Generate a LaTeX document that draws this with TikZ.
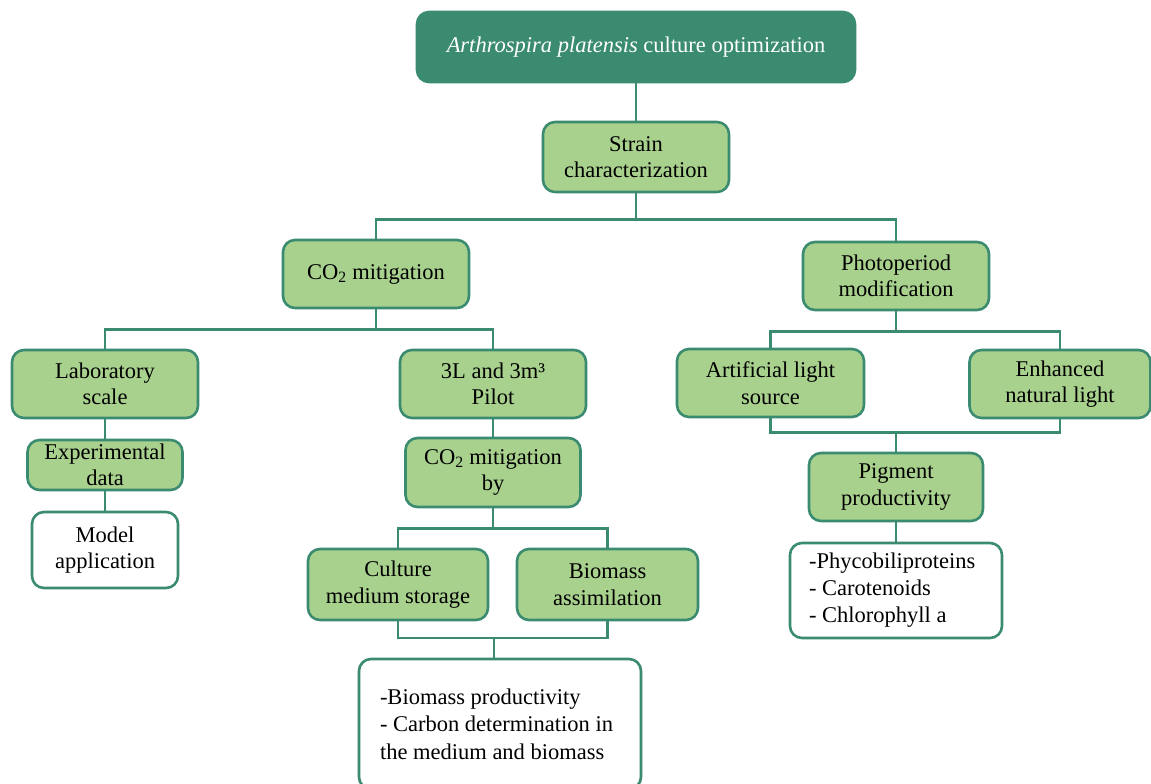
\documentclass[tikz,border=0pt]{standalone}
\usepackage{fontspec}
\setmainfont{Liberation Serif}
\usetikzlibrary{calc}
\definecolor{dk}{HTML}{3A8B70}
\definecolor{lg}{HTML}{A9D18E}
\tikzset{
 base/.style={draw=dk, line width=2.6pt, rounded corners=12pt, align=center, inner sep=0pt, font=\fontsize{22.5}{26.5}\selectfont, text=black},
 gbox/.style={base, fill=lg},
 wbox/.style={base, fill=white},
 tbox/.style={base, fill=dk, text=white},
 conn/.style={draw=dk, line width=2.8pt},
 sz/.style 2 args={minimum width=#1, minimum height=#2},
}
\begin{document}
\begin{tikzpicture}[x=1pt,y=-1pt]
\useasboundingbox (0,0) rectangle (1151,784);
\clip (0,0) rectangle (1151,784);
% nodes
\node[tbox, sz={438pt}{70pt}] (top) at (636,47) {\textit{Arthrospira platensis} culture optimization};
\node[gbox, sz={186pt}{70pt}] (strain) at (636,157) {Strain\\characterization};
\node[gbox, sz={186pt}{68pt}] (co2) at (376,274) {CO\textsubscript{2} mitigation};
\node[gbox, sz={186pt}{68pt}] (photo) at (896,276) {Photoperiod\\modification};
\node[gbox, sz={186pt}{68pt}] (lab) at (105,384) {Laboratory\\scale};
\node[gbox, sz={186pt}{68pt}] (pilot) at (493,384) {3L and 3m³\\Pilot};
\node[gbox, sz={187pt}{68pt}] (art) at (770.5,383) {Artificial light\\source};
\node[gbox, sz={181pt}{68pt}] (enh) at (1060,384) {Enhanced\\natural light};
\node[gbox, sz={155pt}{50pt}] (exp) at (105,465) {Experimental\\data};
\node[wbox, sz={146pt}{76pt}] (model) at (105,550) {Model\\application};
\node[gbox, sz={175pt}{69pt}] (coby) at (493,472.5) {CO\textsubscript{2} mitigation\\by};
\node[gbox, sz={180pt}{71pt}] (culture) at (398,584.5) {Culture\\medium storage};
\node[gbox, sz={181pt}{71pt}] (biomass) at (607.5,584.5) {Biomass\\assimilation};
\node[wbox, sz={282pt}{130pt}, text width=240pt, align=flush left, font=\fontsize{22.5}{27.5}\selectfont] (res) at (500,724) {-Biomass productivity\\- Carbon determination in\\the medium and biomass};
\node[gbox, sz={174pt}{68pt}] (pig) at (896,487) {Pigment\\productivity};
\node[wbox, sz={212pt}{95pt}, text width=174pt, align=flush left, font=\fontsize{22.5}{27}\selectfont] (plist) at (896,590.5) {-Phycobiliproteins\\- Carotenoids\\- Chlorophyll a};
% connectors
\draw[conn] (top.south) -- (strain.north);
\coordinate (j1) at ($(strain.south)+(0,26)$);
\draw[conn] (strain.south) -- (j1);
\draw[conn] (co2.north) |- (j1) -| (photo.north);
\coordinate (j2) at ($(co2.south)+(0,20)$);
\draw[conn] (co2.south) -- (j2);
\draw[conn] (lab.north) |- (j2) -| (pilot.north);
\coordinate (j3) at ($(photo.south)+(0,20)$);
\draw[conn] (photo.south) -- (j3);
\draw[conn] (art.north) |- (j3) -| (enh.north);
\coordinate (j4) at ($(pig.north)+(0,-19)$);
\draw[conn] (art.south) |- (j4) -| (enh.south);
\draw[conn] (j4) -- (pig.north);
\draw[conn] (pig.south) -- (plist.north);
\draw[conn] (lab.south) -- (exp.north);
\draw[conn] (exp.south) -- (model.north);
\draw[conn] (pilot.south) -- (coby.north);
\coordinate (j5) at ($(coby.south)+(0,20)$);
\draw[conn] (coby.south) -- (j5);
\draw[conn] (culture.north) |- (j5) -| (biomass.north);
\coordinate (j6) at (494,638);
\draw[conn] (culture.south) |- (j6) -| (biomass.south);
\draw[conn] (j6) -- (j6 |- res.north);
\end{tikzpicture}
\end{document}
